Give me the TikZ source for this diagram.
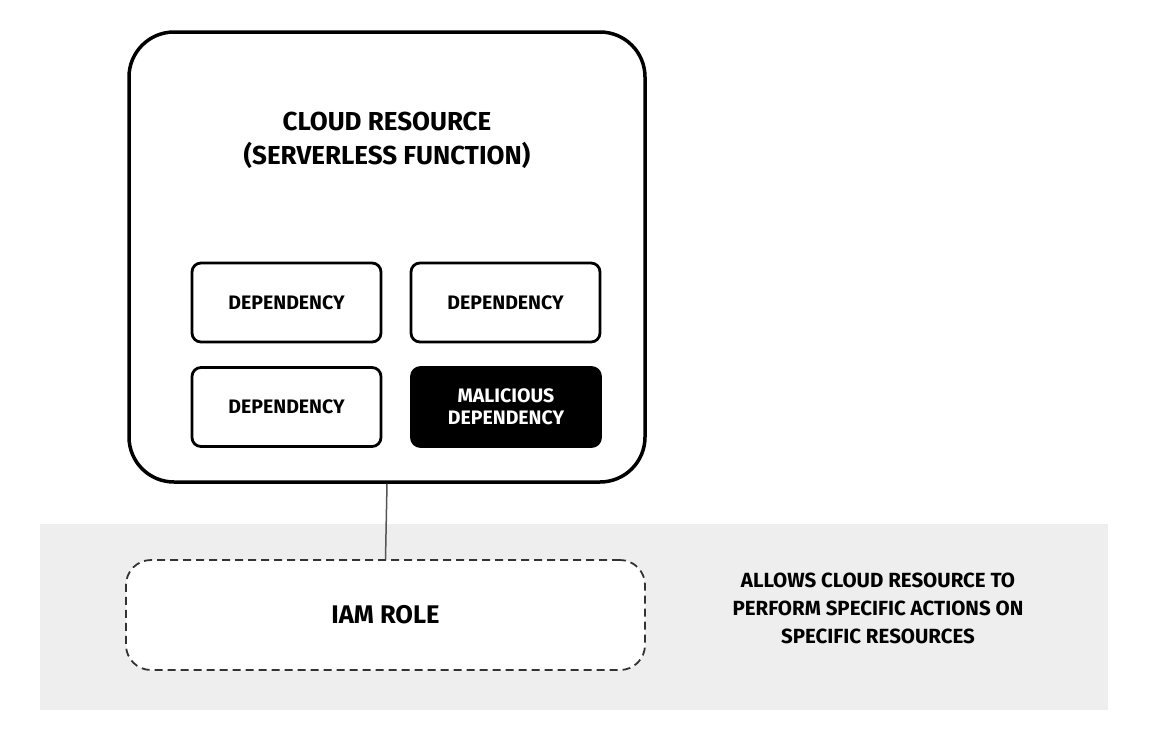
\documentclass[tikz,border=0pt]{standalone}
\usepackage{fontspec}
\setmainfont{Fira Sans}
\usepackage{tikz}
\usetikzlibrary{positioning}
\definecolor{bandgray}{HTML}{EEEEEE}
\definecolor{linegray}{HTML}{555555}
\tikzset{
  outer box/.style={draw,line width=3.5pt,rounded corners=45pt,minimum width=516pt,minimum height=450pt},
  dep node/.style={draw,line width=2.8pt,rounded corners=9pt,minimum width=189pt,minimum height=79pt,font=\fontsize{19.5}{22}\selectfont\bfseries,align=center},
  bad node/.style={dep node,fill=black,text=white},
  role node/.style={draw=black!80,dashed,dash pattern=on 8pt off 5pt,line width=1.8pt,fill=white,rounded corners=25pt,minimum width=519pt,minimum height=110pt,font=\fontsize{25.5}{30}\selectfont\bfseries}
}
\begin{document}
\begin{tikzpicture}[x=1pt,y=-1pt]
		    \useasboundingbox (0,0) rectangle (1152,748);
		    % permissions band
		    \fill[bandgray] (40,524) rectangle (1108,710);
		    \node [outer box] (res) at (387,257) {};
		    \node [font=\fontsize{26}{34}\selectfont\bfseries,align=center] (title) at (387,140) {CLOUD RESOURCE\\(SERVERLESS FUNCTION)};
		    \node [dep node] (d1) at (286.5,302.5) {DEPENDENCY};
		    \node [dep node] (d2) at (505.5,302.5) {DEPENDENCY};
		    \node [dep node] (d3) at (286.5,407) {DEPENDENCY};
		    \node [bad node] (d4) at (506,407) {MALICIOUS\\DEPENDENCY};
		    \node [role node] (role) at (385.5,615) {IAM ROLE};
		    \node [font=\fontsize{20.5}{28}\selectfont\bfseries,align=center] (note) at (878,608) {ALLOWS CLOUD RESOURCE TO\\PERFORM SPECIFIC ACTIONS ON\\SPECIFIC RESOURCES};
		    \draw [linegray,line width=1.5pt] (res.south) -- (role.north);
\end{tikzpicture}
\end{document}
